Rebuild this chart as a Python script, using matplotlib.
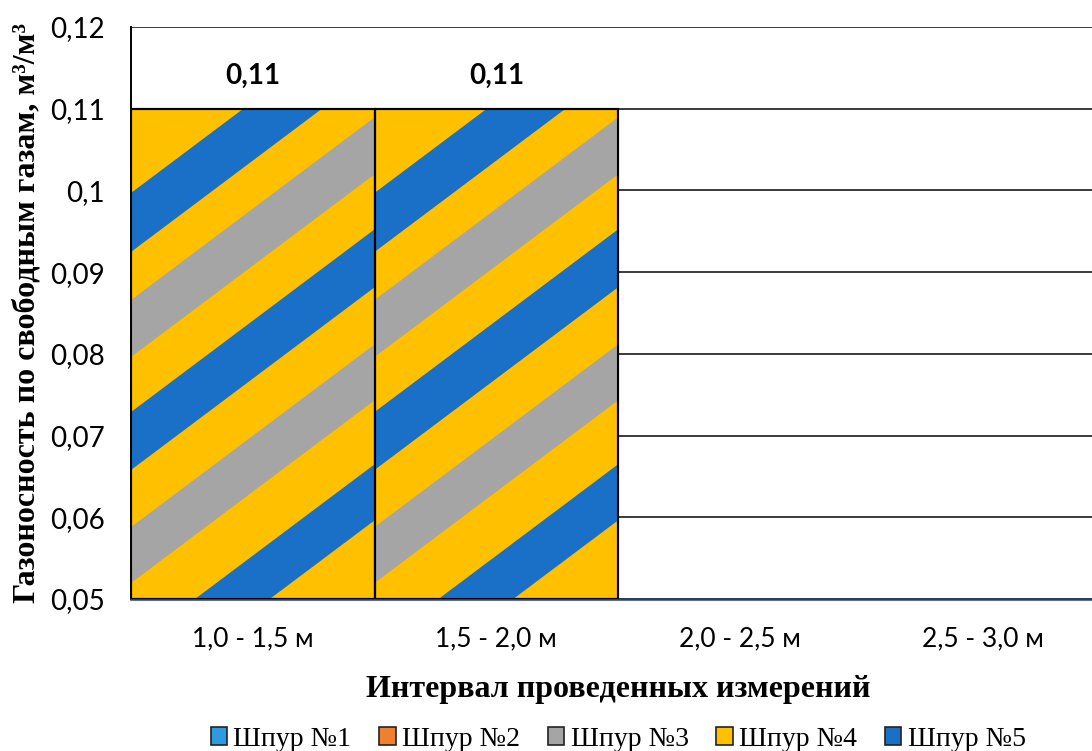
import matplotlib
matplotlib.use("Agg")
import matplotlib.pyplot as plt
from matplotlib.patches import Polygon, Patch

# данные
categories = ["1,0 - 1,5 м", "1,5 - 2,0 м", "2,0 - 2,5 м", "2,5 - 3,0 м"]
values = [0.11, 0.11]          # измерены только первые два интервала
value_labels = ["0,11", "0,11"]
series = ["Шпур №1", "Шпур №2", "Шпур №3", "Шпур №4", "Шпур №5"]
series_colors = ["#2E9BE0", "#F07F2E", "#A5A5A5", "#FFC000", "#1A6FC6"]
yticks = [0.05, 0.06, 0.07, 0.08, 0.09, 0.10, 0.11, 0.12]
ytick_labels = ["0,05", "0,06", "0,07", "0,08", "0,09", "0,1", "0,11", "0,12"]

yellow = "#FFC000"
blue = "#1A6FC6"
gray = "#A5A5A5"

fig = plt.figure(figsize=(10.92, 7.51), dpi=100)
ax = fig.add_axes([0.12, 0.2024, 0.892, 0.7617])

ymin, ymax = 0.05, 0.12
ax.set_xlim(-0.5, 3.5)
ax.set_ylim(ymin, ymax)

# сетка и подписи осей
ax.set_yticks(yticks)
ax.set_yticklabels(ytick_labels, fontsize=20, family="Lato")
ax.yaxis.grid(True, color="#3a3a3a", lw=1.4, zorder=0)
ax.set_axisbelow(True)
ax.tick_params(axis="y", length=0, pad=19)
ax.set_xticks(range(len(categories)))
ax.set_xticklabels(categories, fontsize=19, family="Lato")
ax.tick_params(axis="x", length=0, pad=20)

for s in ["top", "right"]:
    ax.spines[s].set_visible(False)
ax.spines["left"].set_color("black")
ax.spines["left"].set_linewidth(1.4)
ax.spines["bottom"].set_color("#24406e")
ax.spines["bottom"].set_linewidth(1.8)

# столбцы от нижней границы оси
bars = ax.bar(range(len(values)), [v - ymin for v in values], bottom=ymin,
              width=1.0, color=yellow, edgecolor="black", linewidth=1.5, zorder=2)

# диагональные полосы: (низ, верх у левого края над основанием, цвет)
slope = 0.02235
stripes = [(-0.01273, -0.00587, blue), (0.00196, 0.00881, gray),
           (0.01579, 0.02288, blue), (0.02962, 0.03659, gray),
           (0.04247, 0.04969, blue)]
for bar in bars:
    x0 = bar.get_x()
    w = bar.get_width()
    for lo, hi, c in stripes:
        poly = Polygon([(x0, ymin + lo), (x0 + w, ymin + lo + slope),
                        (x0 + w, ymin + hi + slope), (x0, ymin + hi)],
                       closed=True, facecolor=c, edgecolor="none", zorder=2.5)
        ax.add_patch(poly)
        poly.set_clip_path(bar)
    # контур поверх полос
    ax.add_patch(plt.Rectangle((x0, bar.get_y()), w, bar.get_height(),
                               fill=False, edgecolor="black", lw=1.5, zorder=3))

# подписи значений
for i, (v, lab) in enumerate(zip(values, value_labels)):
    ax.text(i, v + 0.004, lab, ha="center", va="center", fontsize=20,
            fontweight="bold", family="Lato")

ax.set_xlabel("Интервал проведенных измерений", fontsize=23, fontweight="bold",
              family="Liberation Serif", labelpad=17)
ax.set_ylabel("Газоносность по свободным газам, м³/м³", fontsize=23,
              fontweight="bold", family="Liberation Serif", labelpad=6)

handles = [Patch(facecolor=c, edgecolor="#222222", lw=1.2) for c in series_colors]
ax.legend(handles, series, loc="center", bbox_to_anchor=(0.5, -0.245), ncol=5,
          frameon=False, prop={"family": "Liberation Serif", "size": 20},
          handlelength=0.6, handleheight=0.6, handletextpad=0.22,
          columnspacing=1.0)

fig.savefig("out.png", dpi=100)
